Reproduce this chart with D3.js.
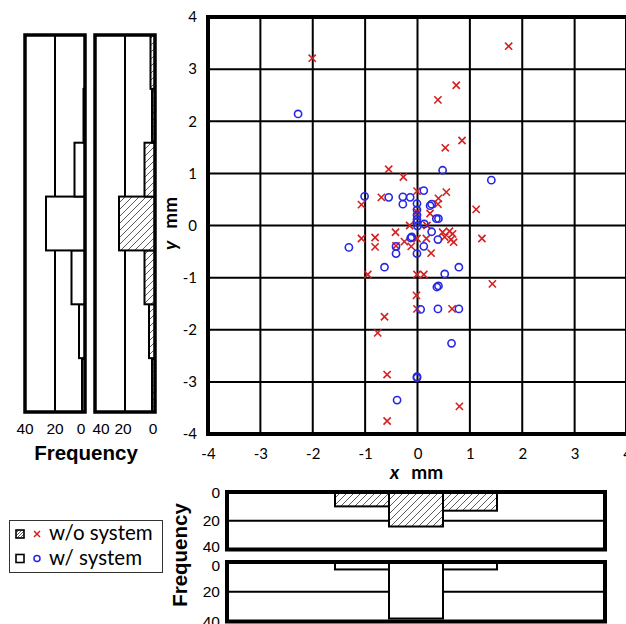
<!DOCTYPE html>
<html>
<head>
<meta charset="utf-8">
<script src="https://cdn.jsdelivr.net/npm/d3@7"></script>
<style>
  html, body { margin: 0; padding: 0; background: #fff; }
  svg { display: block; }
</style>
</head>
<body>
<div id="chart"></div>
<script>
"use strict";

// scatter data, [x, y] in mm
const withoutSystem = [
  [-2.01, 3.21], [1.74, 3.44], [0.74, 2.69], [0.39, 2.41], [0.85, 1.63],
  [0.53, 1.49], [-0.55, 1.08], [-0.27, 0.93], [-0.01, 0.66], [0.55, 0.64],
  [0.40, 0.52], [-0.69, 0.54], [-1.07, 0.40], [0.39, 0.41], [1.12, 0.31],
  [0.24, 0.23], [-0.01, 0.26], [-0.15, 0.0], [0.18, 0.0], [-0.42, -0.13],
  [-1.07, -0.25], [-0.81, -0.23], [-0.81, -0.41], [-0.41, -0.39], [-0.25, -0.31],
  [-0.12, -0.40], [-0.01, -0.25], [0.17, -0.25], [0.26, -0.53], [0.48, -0.13],
  [0.61, -0.11], [0.67, -0.16], [0.52, -0.22], [0.64, -0.27], [0.69, -0.32],
  [1.23, -0.25], [-0.95, -0.94], [-0.01, -0.94], [0.12, -0.94], [1.43, -1.12],
  [-0.02, -1.34], [-0.01, -1.60], [0.66, -1.60], [-0.63, -1.75], [-0.76, -2.06],
  [-0.58, -2.86], [0.80, -3.47], [-0.58, -3.75],
];

const withSystem = [
  [-2.28, 2.14], [0.48, 1.06], [1.41, 0.87], [0.12, 0.67], [-1.01, 0.56],
  [-0.55, 0.54], [-0.28, 0.55], [-0.14, 0.54], [-0.28, 0.41], [-0.01, 0.42],
  [0.24, 0.38], [0.27, 0.41], [-0.01, 0.30], [-0.01, 0.20], [-0.01, 0.12],
  [-0.01, 0.06], [0.0, -0.01], [0.13, 0.03], [0.36, 0.13], [0.40, 0.13],
  [0.27, -0.12], [0.39, -0.27], [-0.13, -0.24], [-0.11, -0.22], [-0.41, -0.40],
  [-0.41, -0.54], [0.12, -0.40], [-0.01, -0.54], [-1.31, -0.42], [-0.63, -0.80],
  [0.79, -0.80], [0.52, -0.93], [0.37, -1.18], [0.40, -1.16], [0.06, -1.61],
  [0.39, -1.60], [0.79, -1.60], [0.65, -2.26], [-0.01, -2.90], [-0.01, -2.92],
  [-0.39, -3.35],
];

// histogram bins (centre, mm) and counts
const bins = [-3, -2, -1, 0, 1, 2, 3];
const xFreqWithout = [0, 0, 10, 24, 13, 0, 0];
const xFreqWith = [0, 0, 5, 38, 5, 0, 0];
const yFreqWithout = [2, 4, 7, 24, 7, 2, 3];
const yFreqWith = [2, 4, 9, 26, 7, 1, 0];

const axisTicks = [-4, -3, -2, -1, 0, 1, 2, 3, 4];
const freqTicks = [0, 20, 40];

const RED = "#d42020";
const BLUE = "#2626e6";
const CAL = "Lato, 'Open Sans', sans-serif";
const ARIAL = "'Liberation Sans', Arial, sans-serif";

const W = 626;
const H = 624;

const svg = d3
  .select("#chart")
  .append("svg")
  .attr("width", W)
  .attr("height", H);

// hatch patterns
const defs = svg.append("defs");
function addHatch(id, size) {
  const p = defs
    .append("pattern")
    .attr("id", id)
    .attr("patternUnits", "userSpaceOnUse")
    .attr("width", size)
    .attr("height", size);
  p.append("rect").attr("width", size).attr("height", size).attr("fill", "#fff");
  p.append("path")
    .attr("d", `M-1,1 l2,-2 M0,${size} l${size},-${size} M${size - 1},${size + 1} l2,-2`)
    .attr("stroke", "#333")
    .attr("stroke-width", 0.8);
}
addHatch("hatch", 7);
addHatch("hatchSmall", 3);

function drawScatter() {
  const x = d3.scaleLinear().domain([-4, 4]).range([208, 627]);
  const y = d3.scaleLinear().domain([-4, 4]).range([434, 17]);
  const g = svg.append("g");

  // grid
  g.selectAll("line.gx")
    .data(axisTicks)
    .join("line")
    .attr("x1", (d) => x(d))
    .attr("x2", (d) => x(d))
    .attr("y1", y(-4))
    .attr("y2", y(4))
    .attr("stroke", "#000")
    .attr("stroke-width", 2);
  g.selectAll("line.gy")
    .data(axisTicks)
    .join("line")
    .attr("y1", (d) => y(d))
    .attr("y2", (d) => y(d))
    .attr("x1", x(-4))
    .attr("x2", x(4))
    .attr("stroke", "#000")
    .attr("stroke-width", 2);

  g.append("rect")
    .attr("x", x(-4))
    .attr("y", y(4))
    .attr("width", x(4) - x(-4))
    .attr("height", y(-4) - y(4))
    .attr("fill", "none")
    .attr("stroke", "#000")
    .attr("stroke-width", 4);

  // tick labels
  const xAxis = g
    .append("g")
    .attr("transform", `translate(0, ${y(-4)})`)
    .call(d3.axisBottom(x).tickValues(axisTicks).tickSize(0).tickPadding(14).tickFormat((d) => String(d)));
  const yAxis = g
    .append("g")
    .attr("transform", `translate(${x(-4)}, 0)`)
    .call(d3.axisLeft(y).tickValues(axisTicks).tickSize(0).tickPadding(11).tickFormat((d) => String(d)));
  [xAxis, yAxis].forEach((a) => {
    a.select(".domain").remove();
    a.selectAll("text").attr("font-family", CAL).attr("font-size", 15).attr("fill", "#000");
  });

  // axis titles
  const xt = g
    .append("text")
    .attr("x", x(0) - 1)
    .attr("y", 479)
    .attr("text-anchor", "middle")
    .attr("font-family", CAL)
    .attr("font-size", 19)
    .attr("font-weight", "bold");
  xt.append("tspan").attr("font-style", "italic").text("x");
  xt.append("tspan").attr("dx", 12).text("mm");

  const yt = g
    .append("text")
    .attr("transform", `translate(177, ${y(0) - 2}) rotate(-90)`)
    .attr("text-anchor", "middle")
    .attr("font-family", CAL)
    .attr("font-size", 19)
    .attr("font-weight", "bold");
  yt.append("tspan").attr("font-style", "italic").text("y");
  yt.append("tspan").attr("dx", 12).text("mm");

  // points
  const s = 3.6;
  g.selectAll("path.cross")
    .data(withoutSystem)
    .join("path")
    .attr("d", (d) => {
      const cx = x(d[0]);
      const cy = y(d[1]);
      return `M${cx - s},${cy - s}L${cx + s},${cy + s}M${cx - s},${cy + s}L${cx + s},${cy - s}`;
    })
    .attr("stroke", RED)
    .attr("stroke-width", 1.6);

  g.selectAll("circle.pt")
    .data(withSystem)
    .join("circle")
    .attr("cx", (d) => x(d[0]))
    .attr("cy", (d) => y(d[1]))
    .attr("r", 3.6)
    .attr("fill", "none")
    .attr("stroke", BLUE)
    .attr("stroke-width", 1.6);
}

// left-hand histograms of y, frequency growing to the left
function drawYHist(counts, left, right, fill, labelDx) {
  const band = d3.scaleBand().domain(bins.slice().reverse()).range([35, 412]);
  const f = d3.scaleLinear().domain([0, 40]).range([right, left]);
  const g = svg.append("g");
  const data = bins.map((b, i) => ({ bin: b, n: counts[i] })).filter((d) => d.n > 0);

  g.append("line")
    .attr("x1", f(20))
    .attr("x2", f(20))
    .attr("y1", 35)
    .attr("y2", 412)
    .attr("stroke", "#000")
    .attr("stroke-width", 2);

  g.selectAll("rect.bar")
    .data(data)
    .join("rect")
    .attr("x", (d) => f(d.n))
    .attr("y", (d) => band(d.bin))
    .attr("width", (d) => f(0) - f(d.n))
    .attr("height", band.bandwidth())
    .attr("fill", fill)
    .attr("stroke", "#000")
    .attr("stroke-width", 2);

  g.append("rect")
    .attr("x", left)
    .attr("y", 35)
    .attr("width", right - left)
    .attr("height", 412 - 35)
    .attr("fill", "none")
    .attr("stroke", "#000")
    .attr("stroke-width", 3.5);

  // labelDx follows freqTicks order: 0, 20, 40
  g.selectAll("text.tick")
    .data(freqTicks)
    .join("text")
    .attr("x", (d, i) => f(d) + labelDx[i])
    .attr("y", 434)
    .attr("text-anchor", "middle")
    .attr("font-family", ARIAL)
    .attr("font-size", 15.5)
    .text((d) => d);
}

// bottom histograms of x, frequency growing downwards
function drawXHist(counts, top, bottom, fill, labelDy) {
  const band = d3.scaleBand().domain(bins).range([227, 605]);
  const f = d3.scaleLinear().domain([0, 40]).range([top, bottom]);
  const g = svg.append("g");
  const data = bins.map((b, i) => ({ bin: b, n: counts[i] })).filter((d) => d.n > 0);

  g.append("line")
    .attr("x1", 227)
    .attr("x2", 605)
    .attr("y1", f(20))
    .attr("y2", f(20))
    .attr("stroke", "#000")
    .attr("stroke-width", 2);

  g.selectAll("rect.bar")
    .data(data)
    .join("rect")
    .attr("x", (d) => band(d.bin))
    .attr("y", f(0))
    .attr("width", band.bandwidth())
    .attr("height", (d) => f(d.n) - f(0))
    .attr("fill", fill)
    .attr("stroke", "#000")
    .attr("stroke-width", 2);

  g.append("rect")
    .attr("x", 227)
    .attr("y", top)
    .attr("width", 605 - 227)
    .attr("height", bottom - top)
    .attr("fill", "none")
    .attr("stroke", "#000")
    .attr("stroke-width", 4);

  g.selectAll("text.tick")
    .data(freqTicks)
    .join("text")
    .attr("x", 220)
    .attr("y", (d, i) => f(d) + labelDy[i])
    .attr("dy", "0.36em")
    .attr("text-anchor", "end")
    .attr("font-family", ARIAL)
    .attr("font-size", 15.5)
    .text((d) => d);
}

function drawLegend() {
  const g = svg.append("g");
  g.append("rect")
    .attr("x", 9.5)
    .attr("y", 520.5)
    .attr("width", 153)
    .attr("height", 52)
    .attr("fill", "#fff")
    .attr("stroke", "#333")
    .attr("stroke-width", 1);

  const rows = [
    { label: "w/o system", fill: "url(#hatchSmall)", mark: "cross", cy: 534 },
    { label: "w/ system", fill: "#fff", mark: "circle", cy: 558.5 },
  ];
  rows.forEach((r) => {
    g.append("rect")
      .attr("x", 16)
      .attr("y", r.cy - 4)
      .attr("width", 8)
      .attr("height", 8)
      .attr("fill", r.fill)
      .attr("stroke", "#000")
      .attr("stroke-width", 1.6);
    if (r.mark === "cross") {
      const s = 3;
      g.append("path")
        .attr("d", `M${37 - s},${r.cy - s}L${37 + s},${r.cy + s}M${37 - s},${r.cy + s}L${37 + s},${r.cy - s}`)
        .attr("stroke", RED)
        .attr("stroke-width", 1.5);
    } else {
      g.append("circle")
        .attr("cx", 37)
        .attr("cy", r.cy)
        .attr("r", 3)
        .attr("fill", "none")
        .attr("stroke", BLUE)
        .attr("stroke-width", 1.5);
    }
    g.append("text")
      .attr("x", 49)
      .attr("y", r.cy + 6)
      .attr("font-family", CAL)
      .attr("font-size", 20.5)
      .text(r.label);
  });
}

drawYHist(yFreqWith, 25, 85, "#fff", [-4, 0, 0]);
drawYHist(yFreqWithout, 95, 155, "url(#hatch)", [-2, -2, 6]);
drawXHist(xFreqWithout, 492, 549.5, "url(#hatch)", [0, 0, -3]);
drawXHist(xFreqWith, 562, 621.5, "#fff", [3, 0, 0]);
drawScatter();
drawLegend();

svg.append("text")
  .attr("x", 86)
  .attr("y", 460)
  .attr("text-anchor", "middle")
  .attr("font-family", ARIAL)
  .attr("font-size", 20.5)
  .attr("font-weight", "bold")
  .text("Frequency");

svg.append("text")
  .attr("transform", "translate(187, 555) rotate(-90)")
  .attr("text-anchor", "middle")
  .attr("font-family", ARIAL)
  .attr("font-size", 20.5)
  .attr("font-weight", "bold")
  .text("Frequency");
</script>
</body>
</html>
